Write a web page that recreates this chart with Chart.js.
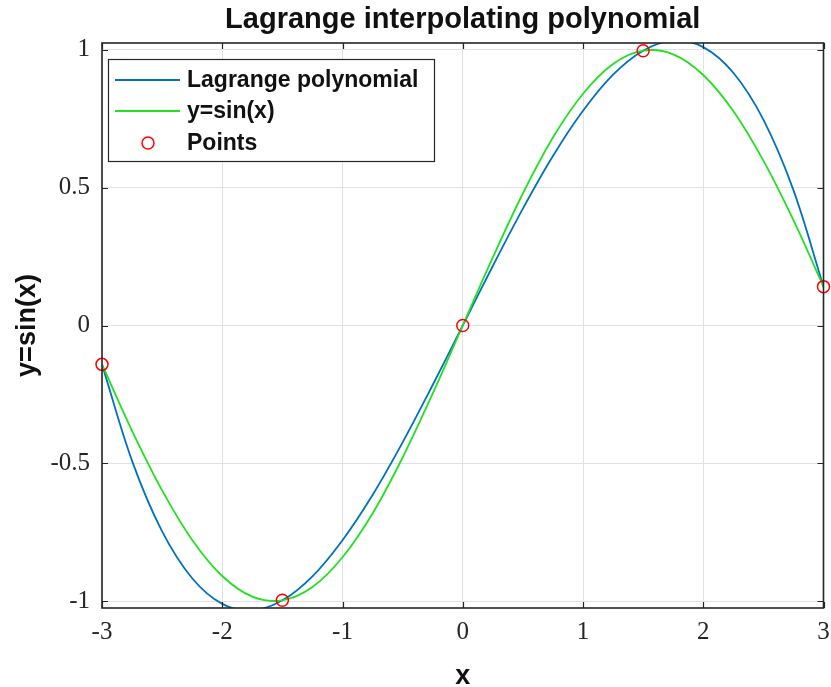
<!DOCTYPE html>
<html>
<head>
<meta charset="utf-8">
<title>Lagrange interpolating polynomial</title>
<script src="https://cdn.jsdelivr.net/npm/chart.js@4/dist/chart.umd.min.js"></script>
<style>
  html, body { margin: 0; padding: 0; background: #fff; }
  #wrap { width: 831px; height: 687px; }
</style>
</head>
<body>
<div id="wrap"><canvas id="chart" width="831" height="687"></canvas></div>
<script>
// x positions the two curves are read at
const xValues = [-3, -2.75, -2.5, -2.25, -2, -1.75, -1.5, -1.25, -1, -0.75, -0.5, -0.25, 0,
  0.25, 0.5, 0.75, 1, 1.25, 1.5, 1.75, 2, 2.25, 2.5, 2.75, 3];
const lagrangeValues = [-0.141, -0.491, -0.747, -0.917, -1.010, -1.034, -0.997, -0.910, -0.779, -0.615, -0.424, -0.216, 0,
  0.216, 0.424, 0.615, 0.779, 0.910, 0.997, 1.034, 1.010, 0.917, 0.747, 0.491, 0.141];
const sinValues = [-0.141, -0.382, -0.598, -0.778, -0.909, -0.984, -0.997, -0.949, -0.841, -0.682, -0.479, -0.247, 0,
  0.247, 0.479, 0.682, 0.841, 0.949, 0.997, 0.984, 0.909, 0.778, 0.598, 0.382, 0.141];
// interpolation nodes
const nodeX = [-3, -1.5, 0, 1.5, 3];
const nodeY = [-0.141, -0.997, 0, 0.997, 0.141];

const xTicks = [-3, -2, -1, 0, 1, 2, 3];
const yTicks = [-1, -0.5, 0, 0.5, 1];

const toPoints = (xs, ys) => xs.map((x, i) => ({ x: x, y: ys[i] }));

const tickFont = { family: "'Liberation Serif', 'Times New Roman', serif", size: 25 };
const boldFont = (size) => ({ family: "'Liberation Sans', Arial, sans-serif", size: size, weight: 'bold', lineHeight: 1 });

// matlab style box, inward ticks on all four sides, legend inside the axes
const frameAndLegend = {
  id: 'frameAndLegend',
  afterDraw(chart) {
    const { ctx, chartArea: a, scales } = chart;
    const tl = 6;
    ctx.save();
    ctx.strokeStyle = '#262626';
    ctx.lineWidth = 1.2;
    ctx.beginPath();
    xTicks.forEach(v => {
      const px = Math.round(scales.x.getPixelForValue(v)) + 0.5;
      ctx.moveTo(px, a.bottom); ctx.lineTo(px, a.bottom - tl);
      ctx.moveTo(px, a.top); ctx.lineTo(px, a.top + tl);
    });
    yTicks.forEach(v => {
      const py = Math.round(scales.y.getPixelForValue(v)) + 0.5;
      ctx.moveTo(a.left, py); ctx.lineTo(a.left + tl, py);
      ctx.moveTo(a.right, py); ctx.lineTo(a.right - tl, py);
    });
    ctx.stroke();
    ctx.lineWidth = 1.6;
    ctx.strokeRect(a.left, a.top, a.right - a.left, a.bottom - a.top);

    // legend
    const lx = a.left + 6, ly = a.top + 16, lw = 326, lh = 102;
    ctx.fillStyle = '#fff';
    ctx.fillRect(lx, ly, lw, lh);
    ctx.lineWidth = 1.2;
    ctx.strokeStyle = '#262626';
    ctx.strokeRect(lx + 0.5, ly + 0.5, lw, lh);
    const rows = [21, 52, 84];
    ctx.font = "bold 23px 'Liberation Sans', Arial, sans-serif";
    ctx.textBaseline = 'middle';
    ctx.textAlign = 'left';
    chart.data.datasets.forEach((ds, i) => {
      const y = ly + rows[i];
      if (ds.showLine === false) {
        ctx.beginPath();
        ctx.arc(lx + 40, y, ds.pointRadius, 0, Math.PI * 2);
        ctx.strokeStyle = ds.borderColor;
        ctx.lineWidth = ds.pointBorderWidth;
        ctx.stroke();
      } else {
        ctx.beginPath();
        ctx.moveTo(lx + 7, y); ctx.lineTo(lx + 72, y);
        ctx.strokeStyle = ds.borderColor;
        ctx.lineWidth = ds.borderWidth;
        ctx.stroke();
      }
      ctx.fillStyle = '#111';
      ctx.fillText(ds.label, lx + 79, y + 1);
    });
    ctx.restore();
  }
};

new Chart(document.getElementById('chart'), {
  type: 'line',
  data: {
    datasets: [
      {
        label: 'Lagrange polynomial',
        data: toPoints(xValues, lagrangeValues),
        borderColor: '#0072BD',
        borderWidth: 1.8,
        pointRadius: 0,
        tension: 0.35,
        order: 2
      },
      {
        label: 'y=sin(x)',
        data: toPoints(xValues, sinValues),
        borderColor: '#22e022',
        borderWidth: 1.8,
        pointRadius: 0,
        tension: 0.35,
        order: 1
      },
      {
        label: 'Points',
        data: toPoints(nodeX, nodeY),
        showLine: false,
        borderColor: '#ff0000',
        backgroundColor: 'rgba(0,0,0,0)',
        pointRadius: 6,
        pointBorderWidth: 1.5,
        pointStyle: 'circle',
        clip: false,
        order: 0
      }
    ]
  },
  options: {
    responsive: false,
    animation: false,
    devicePixelRatio: 1,
    layout: { padding: { left: 0, right: 7, top: 0, bottom: 0 } },
    plugins: {
      legend: { display: false },
      tooltip: { enabled: false },
      title: {
        display: true,
        text: 'Lagrange interpolating polynomial',
        fullSize: false,
        color: '#111',
        font: { family: "'Liberation Sans', Arial, sans-serif", size: 29, weight: 'bold', lineHeight: 1.2 },
        padding: { top: 2.5, bottom: 5.7 }
      }
    },
    scales: {
      x: {
        type: 'linear',
        min: -3,
        max: 3,
        afterBuildTicks: s => { s.ticks = xTicks.map(v => ({ value: v })); },
        afterFit: s => { s.height = 79; s.paddingLeft = 0; s.paddingRight = 0; },
        ticks: { font: tickFont, color: '#262626', padding: 9, maxRotation: 0, callback: v => String(v) },
        grid: { color: '#e2e2e2', lineWidth: 1, drawTicks: false },
        border: { display: false },
        title: { display: true, text: 'x', color: '#111', font: boldFont(27), padding: { top: 0, bottom: -3.5 } }
      },
      y: {
        type: 'linear',
        min: -1.025,
        max: 1.025,
        afterBuildTicks: s => { s.ticks = yTicks.map(v => ({ value: v })); },
        afterFit: s => { s.width = 102; s.paddingTop = 0; s.paddingBottom = 0; },
        ticks: { font: tickFont, color: '#262626', padding: 12, callback: v => String(v) },
        grid: { color: '#e2e2e2', lineWidth: 1, drawTicks: false },
        border: { display: false },
        title: { display: true, text: 'y=sin(x)', color: '#111', font: boldFont(27), padding: { top: 14.5, bottom: 0 } }
      }
    }
  },
  plugins: [frameAndLegend]
});
</script>
</body>
</html>
